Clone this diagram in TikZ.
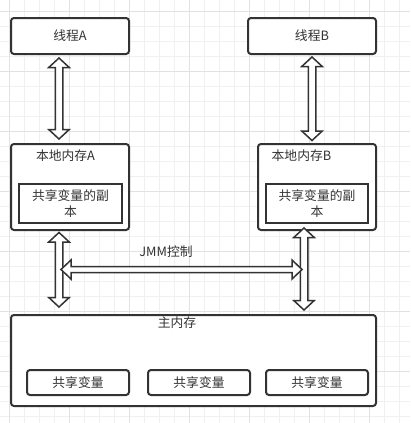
\documentclass[tikz,border=0pt]{standalone}
\usepackage{fontspec}
\setmainfont{Noto Sans CJK SC}
\usetikzlibrary{calc}
\definecolor{ink}{HTML}{333333}
\definecolor{gmin}{HTML}{F0F0F0}
\definecolor{gmaj}{HTML}{E2E2E2}
\newcommand\vflex[2]{%
  \draw[flexarrow] let \p1=(#1), \p2=(#2) in
    (\x1,\y1) -- (\x1+10.25pt,\y1-9.5pt) -- (\x1+3.75pt,\y1-9.5pt) -- (\x1+3.75pt,\y2+9.5pt)
    -- (\x1+10.25pt,\y2+9.5pt) -- (\x1,\y2) -- (\x1-10.25pt,\y2+9.5pt) -- (\x1-3.75pt,\y2+9.5pt)
    -- (\x1-3.75pt,\y1-9.5pt) -- (\x1-10.25pt,\y1-9.5pt) -- cycle;}
\newcommand\hflex[2]{%
  \draw[flexarrow] let \p1=(#1), \p2=(#2) in
    (\x1,\y1) -- (\x1+10pt,\y1+9.5pt) -- (\x1+10pt,\y1+3pt) -- (\x2-10pt,\y1+3pt)
    -- (\x2-10pt,\y1+9.5pt) -- (\x2,\y1) -- (\x2-10pt,\y1-9.5pt) -- (\x2-10pt,\y1-3pt)
    -- (\x1+10pt,\y1-3pt) -- (\x1+10pt,\y1-9.5pt) -- cycle;}
\tikzset{
  txt/.style={text=ink, inner sep=0pt, font=\fontsize{12.8}{15.5}\selectfont},
  box/.style={txt, draw=ink, line width=2pt, rounded corners=3pt, fill=white, align=center},
  sharpbox/.style={box, rounded corners=0pt},
  flexarrow/.style={draw=ink, line width=1.5pt, fill=white, line join=miter},
  gridmin/.style={draw=gmin, line width=1pt},
  gridmaj/.style={draw=gmaj, line width=1pt},
}
\begin{document}
\begin{tikzpicture}[x=1pt,y=-1pt]
\useasboundingbox[fill=white] (0,0) rectangle (410,423);
% background grid
\foreach \i in {0,...,26} { \draw[gridmin] (9+15*\i,0) -- (9+15*\i,423); }
\foreach \i in {0,...,27} { \draw[gridmin] (0,11+15*\i) -- (410,11+15*\i); }
\foreach \i in {0,...,6} { \draw[gridmaj] (9+60*\i,0) -- (9+60*\i,423); \draw[gridmaj] (0,11+60*\i) -- (410,11+60*\i); }

% threads
\node[box, minimum width=118pt, minimum height=36pt] (tA) at (70,36) {线程A};
\node[box, minimum width=128pt, minimum height=36pt] (tB) at (312,36) {线程B};

% local memories
\node[box, minimum width=118pt, minimum height=86pt] (lA) at (70,187) {};
\node[txt] (lAt) at (65.5,156) {本地内存A};
\node[sharpbox, minimum width=103pt, minimum height=39pt] (cA) at (70.5,203.5) {共享变量的副\\本};
\node[box, minimum width=118pt, minimum height=86pt] (lB) at (317,187) {};
\node[txt] (lBt) at (301.5,156) {本地内存B};
\node[sharpbox, minimum width=102pt, minimum height=39pt] (cB) at (317,203.5) {共享变量的副\\本};

% main memory
\node[box, minimum width=365pt, minimum height=91pt] (m) at (193.5,360.5) {};
\node[txt] (mt) at (177,323) {主内存};
\node[box, minimum width=102pt, minimum height=25pt] (v1) at (78,382.5) {共享变量};
\node[box, minimum width=102pt, minimum height=25pt] (v2) at (199,382.5) {共享变量};
\node[box, minimum width=102pt, minimum height=25pt] (v3) at (317,382.5) {共享变量};

% JMM control
\node[txt] (jmm) at (166,251.5) {JMM控制};
\coordinate (jL) at (61,269.5);
\coordinate (jR) at (302,269.5);

% arrows
\vflex{[xshift=-11pt,yshift=-3pt]tA.south}{[yshift=4pt]lA.north}
\vflex{[yshift=-2pt]tB.south}{[yshift=2.5pt]lB.north}
\vflex{[xshift=-11pt,yshift=-1.5pt]lA.south}{[yshift=7pt]m.north}
\vflex{[xshift=-13pt,yshift=3pt]lB.south}{[yshift=4pt]m.north}
\hflex{jL}{jR}
\end{tikzpicture}
\end{document}
